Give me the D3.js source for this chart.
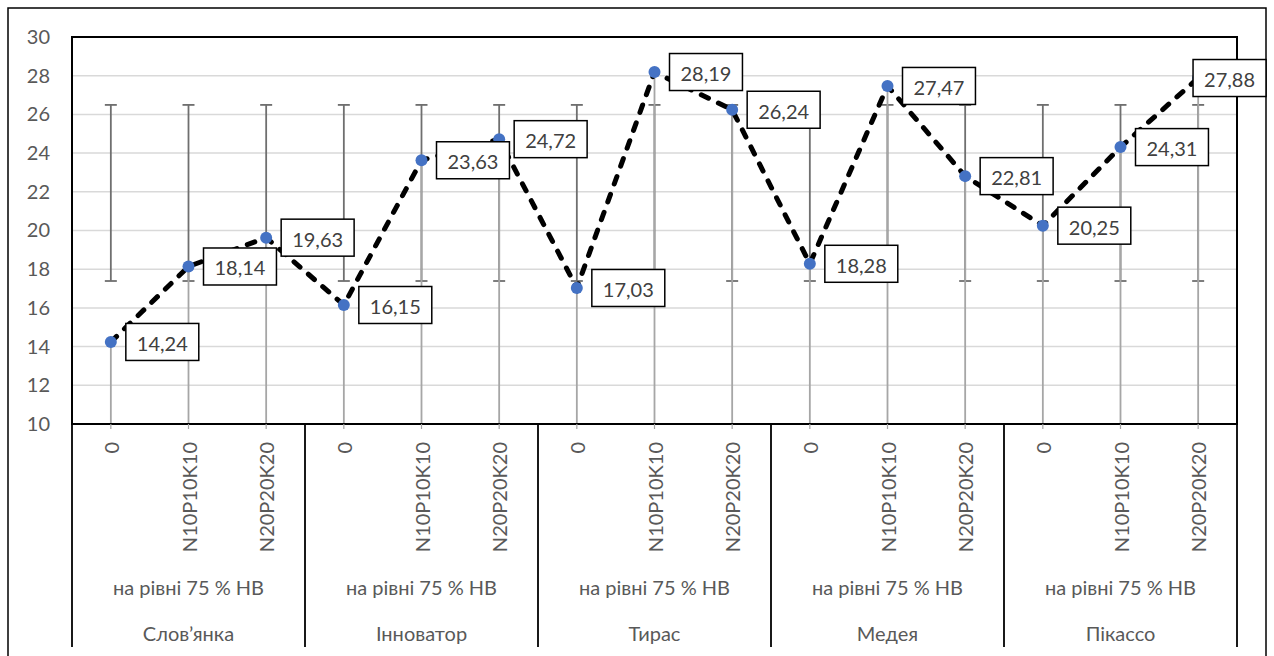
<!DOCTYPE html>
<html>
<head>
<meta charset="utf-8">
<script src="https://cdn.jsdelivr.net/npm/d3@7"></script>
<style>
  html, body { margin: 0; padding: 0; background: #fff; }
  svg { display: block; font-family: Lato, "Open Sans", sans-serif; }
</style>
</head>
<body>
<svg id="chart" width="1274" height="656"></svg>
<script>
// ---- data ----
const varieties = ["Слов’янка", "Інноватор", "Тирас", "Медея", "Пікассо"];
const levelLabel = "на рівні 75 % НВ";
const treatments = ["0", "N10P10K10", "N20P20K20"];
const values = [14.24, 18.14, 19.63, 16.15, 23.63, 24.72, 17.03, 28.19, 26.24, 18.28, 27.47, 22.81, 20.25, 24.31, 27.88];
const errLow  = [17.39, 17.39, 17.39, 17.39, 17.39, 17.39, 17.39, 17.39, 17.39, 17.39, 17.39, 17.39, 17.39, 17.39, 17.39];
const errHigh = [26.49, 26.49, 26.49, 26.49, 26.49, 26.49, 26.49, 26.49, 26.49, 26.49, 26.49, 26.49, 26.49, 26.49, 26.49];
const yTicks = [10, 12, 14, 16, 18, 20, 22, 24, 26, 28, 30];

// ---- build rows ----
const rows = [];
varieties.forEach((v, gi) => {
  treatments.forEach((t, ti) => {
    const i = gi * treatments.length + ti;
    rows.push({ i, variety: v, treatment: t, value: values[i], lo: errLow[i], hi: errHigh[i] });
  });
});

// ---- layout ----
const W = 1274, H = 656;
const plot = { left: 72, right: 1237, top: 37, bottom: 424 };
const outer = { left: 8, top: 8, right: 1266 };
const FS = 20;

const svg = d3.select("#chart");

const x = d3.scaleBand().domain(rows.map(d => d.i)).range([plot.left, plot.right]).padding(0);
const y = d3.scaleLinear().domain([10, 30]).range([plot.bottom, plot.top]);
const cx = i => x(i) + x.bandwidth() / 2;

// outer chart border
svg.append("rect")
  .attr("x", outer.left).attr("y", outer.top)
  .attr("width", outer.right - outer.left).attr("height", H + 10)
  .attr("fill", "#fff").attr("stroke", "#000").attr("stroke-width", 1.5);

// gridlines
svg.append("g").selectAll("line")
  .data(yTicks.filter(t => t > 10 && t < 30))
  .join("line")
  .attr("x1", plot.left).attr("x2", plot.right)
  .attr("y1", d => y(d)).attr("y2", d => y(d))
  .attr("stroke", "#d9d9d9").attr("stroke-width", 1.5);

// y axis labels
const yAxis = d3.axisLeft(y).tickValues(yTicks).tickSize(0).tickPadding(0).tickFormat(d3.format("d"));
const gy = svg.append("g").attr("transform", `translate(${plot.left - 22},0)`).call(yAxis);
gy.select(".domain").remove();
gy.selectAll("text").attr("fill", "#595959").attr("font-size", FS).attr("font-family", "Lato, 'Open Sans', sans-serif");

// error bars
const eb = svg.append("g").attr("stroke", "#6f6f6f").attr("stroke-width", 1.8);
rows.forEach(d => {
  eb.append("line").attr("x1", cx(d.i)).attr("x2", cx(d.i)).attr("y1", y(d.lo)).attr("y2", y(d.hi));
  eb.append("line").attr("x1", cx(d.i) - 6).attr("x2", cx(d.i) + 6).attr("y1", y(d.lo)).attr("y2", y(d.lo));
  eb.append("line").attr("x1", cx(d.i) - 6).attr("x2", cx(d.i) + 6).attr("y1", y(d.hi)).attr("y2", y(d.hi));
});

// drop lines
svg.append("g").selectAll("line").data(rows).join("line")
  .attr("x1", d => cx(d.i)).attr("x2", d => cx(d.i))
  .attr("y1", d => y(d.value)).attr("y2", plot.bottom)
  .attr("stroke", "#a6a6a6").attr("stroke-width", 1.8);

// plot border
svg.append("rect")
  .attr("x", plot.left).attr("y", plot.top)
  .attr("width", plot.right - plot.left).attr("height", plot.bottom - plot.top)
  .attr("fill", "none").attr("stroke", "#000").attr("stroke-width", 2);

// x axis: small ticks at category centers
svg.append("g").selectAll("line").data(rows).join("line")
  .attr("x1", d => cx(d.i)).attr("x2", d => cx(d.i))
  .attr("y1", plot.bottom).attr("y2", plot.bottom + 5)
  .attr("stroke", "#a6a6a6").attr("stroke-width", 1.2);

// group separators
const groupW = x.bandwidth() * treatments.length;
const seps = d3.range(varieties.length + 1).map(k => plot.left + k * groupW);
svg.append("g").selectAll("line").data(seps).join("line")
  .attr("x1", d => d).attr("x2", d => d)
  .attr("y1", plot.bottom).attr("y2", 647)
  .attr("stroke", "#000").attr("stroke-width", 1.8);

// treatment labels (rotated)
svg.append("g").selectAll("text").data(rows).join("text")
  .attr("transform", d => `translate(${cx(d.i)},442) rotate(-90)`)
  .attr("text-anchor", "end")
  .attr("dominant-baseline", "central")
  .attr("font-size", FS)
  .attr("fill", "#595959")
  .text(d => d.treatment);

// level labels & variety labels
varieties.forEach((v, k) => {
  const mid = plot.left + k * groupW + groupW / 2;
  svg.append("text").attr("x", mid).attr("y", 587)
    .attr("text-anchor", "middle").attr("dominant-baseline", "central")
    .attr("font-size", FS).attr("fill", "#595959").text(levelLabel);
  svg.append("text").attr("x", mid).attr("y", 633)
    .attr("text-anchor", "middle").attr("dominant-baseline", "central")
    .attr("font-size", FS).attr("fill", "#595959").text(v);
});

// dashed line
const line = d3.line().x(d => cx(d.i)).y(d => y(d.value));
svg.append("path").datum(rows)
  .attr("d", line)
  .attr("fill", "none").attr("stroke", "#000").attr("stroke-width", 5)
  .attr("stroke-dasharray", "8,11").attr("stroke-linecap", "round");

// markers
svg.append("g").selectAll("circle").data(rows).join("circle")
  .attr("cx", d => cx(d.i)).attr("cy", d => y(d.value)).attr("r", 6)
  .attr("fill", "#4472c4");

// data labels
const fmt = v => v.toFixed(2).replace(".", ",");
const lbl = svg.append("g");
rows.forEach(d => {
  const g = lbl.append("g");
  const t = g.append("text")
    .attr("font-size", FS).attr("fill", "#404040")
    .attr("dominant-baseline", "central")
    .text(fmt(d.value));
  const tw = t.node().getComputedTextLength();
  const bw = tw + 22, bh = 37;
  let bx = cx(d.i) + 15;
  if (bx + bw > outer.right) bx = outer.right - bw;
  const by = y(d.value) - bh / 2;
  g.insert("rect", "text")
    .attr("x", bx).attr("y", by).attr("width", bw).attr("height", bh)
    .attr("fill", "#fff").attr("stroke", "#000").attr("stroke-width", 1.5);
  t.attr("x", bx + 11).attr("y", by + bh / 2 + 1);
});
</script>
</body>
</html>
